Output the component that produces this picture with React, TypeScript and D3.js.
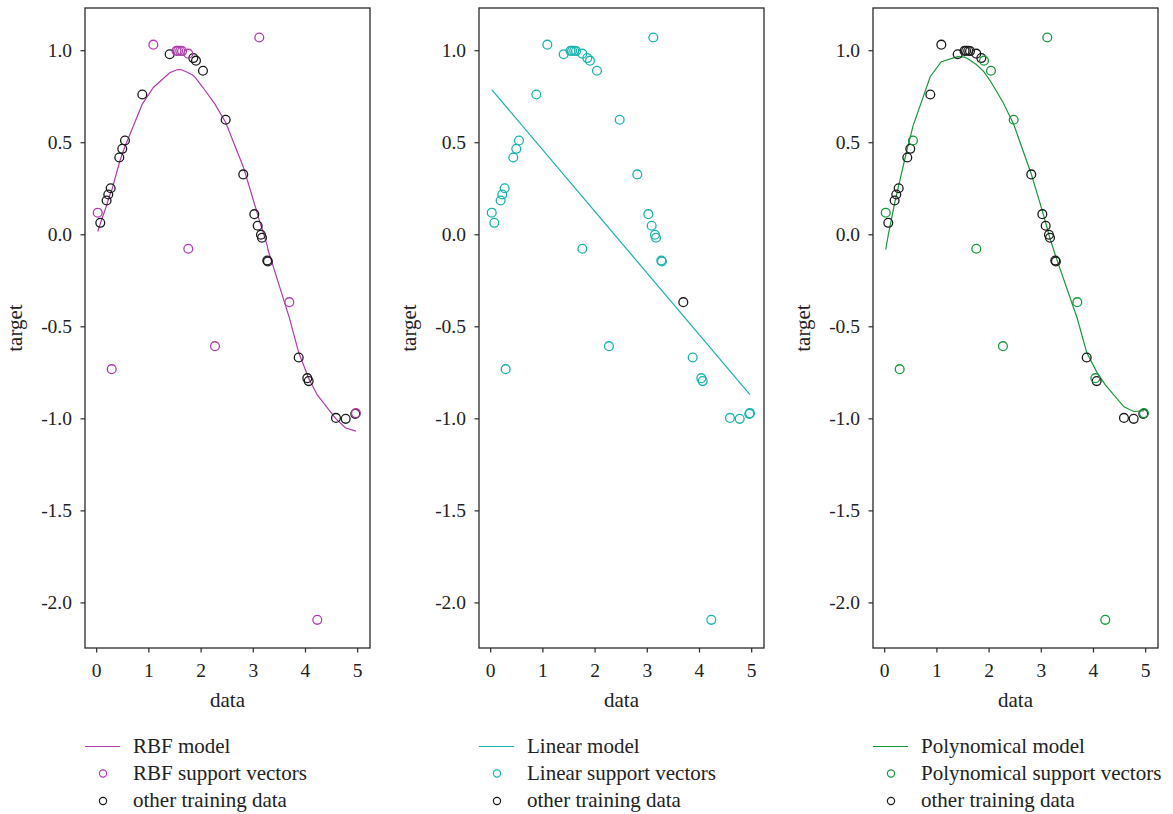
import React from "react";
import { scaleLinear, line } from "d3";

// training data (sorted by x)
const dataX = [
  0.02, 0.069, 0.19, 0.222, 0.268, 0.287, 0.433, 0.49, 0.542, 0.874,
  1.085, 1.398, 1.53, 1.56, 1.6, 1.635, 1.755, 1.755, 1.851, 1.902,
  2.036, 2.266, 2.471, 2.808, 3.02, 3.084, 3.115, 3.147, 3.167, 3.268,
  3.28, 3.69, 3.87, 4.035, 4.061, 4.226, 4.584, 4.77, 4.954, 4.967,
];
const dataY = [
  0.12, 0.065, 0.186, 0.219, 0.253, -0.73, 0.42, 0.467, 0.512, 0.762,
  1.033, 0.981, 0.999, 1.0, 1.0, 0.998, 0.984, -0.076, 0.96, 0.946,
  0.891, -0.605, 0.625, 0.328, 0.112, 0.049, 1.072, 0.0, -0.016, -0.14,
  -0.145, -0.366, -0.667, -0.779, -0.795, -2.092, -0.995, -1.0, -0.973, -0.969,
];

// model predictions at each training x
const rbfPred = [
  0.018, 0.06, 0.16, 0.19, 0.23, 0.24, 0.39, 0.44, 0.48, 0.71,
  0.8, 0.88, 0.895, 0.897, 0.897, 0.895, 0.88, 0.88, 0.865, 0.85,
  0.8, 0.71, 0.61, 0.37, 0.17, 0.11, 0.08, 0.05, 0.035, -0.06,
  -0.08, -0.45, -0.64, -0.76, -0.78, -0.87, -1.0, -1.05, -1.065, -1.068,
];
const linearX = [0.02, 4.967];
const linearPred = [0.788, -0.868];
const polyPred = [
  -0.08, 0.0, 0.17, 0.21, 0.27, 0.29, 0.47, 0.53, 0.59, 0.86,
  0.94, 0.968, 0.965, 0.96, 0.955, 0.948, 0.925, 0.925, 0.9, 0.885,
  0.83, 0.72, 0.6, 0.33, 0.13, 0.065, 0.035, 0.0, -0.02, -0.11,
  -0.12, -0.455, -0.64, -0.73, -0.745, -0.815, -0.935, -0.96, -0.957, -0.955,
];

// support vector indices per kernel
const rbfSupport = [0, 5, 10, 12, 13, 14, 15, 16, 17, 21, 26, 31, 35, 39];
const linearSupport = dataX.map((_, i) => i).filter((i) => i !== 31);
const polySupport = [0, 5, 8, 17, 19, 20, 21, 22, 26, 31, 33, 35, 39];

const xTicks = [0, 1, 2, 3, 4, 5];
const yTicks = [1.0, 0.5, 0.0, -0.5, -1.0, -1.5, -2.0];

const panels = [
  { name: "RBF", color: "#b03cae", lx: dataX, ly: rbfPred, sv: rbfSupport },
  { name: "Linear", color: "#16b4ad", lx: linearX, ly: linearPred, sv: linearSupport },
  { name: "Polynomical", color: "#17993a", lx: dataX, ly: polyPred, sv: polySupport },
];

const FONT = "'Liberation Serif', 'Times New Roman', serif";
const W = 285;
const TOP = 8;
const BOTTOM = 648;
const lefts = [85, 479, 873];

const Panel = ({ p, left }) => {
  const x = scaleLinear().domain([-0.224, 5.236]).range([left, left + W]);
  const y = scaleLinear().domain([-2.245, 1.232]).range([BOTTOM, TOP]);
  const path = line()
    .x((d) => x(d[0]))
    .y((d) => y(d[1]))(p.lx.map((v, i) => [v, p.ly[i]]));
  const svSet = new Set(p.sv);
  const others = dataX.map((_, i) => i).filter((i) => !svSet.has(i));
  const midX = left + W / 2;
  return (
    <g>
      <path d={path} fill="none" stroke={p.color} strokeWidth={1.2} />
      {others.map((i) => (
        <circle key={"o" + i} cx={x(dataX[i])} cy={y(dataY[i])} r={4.4}
          fill="none" stroke="#1a1a1a" strokeWidth={1.3} />
      ))}
      {p.sv.map((i) => (
        <circle key={"s" + i} cx={x(dataX[i])} cy={y(dataY[i])} r={4.4}
          fill="none" stroke={p.color} strokeWidth={1.3} />
      ))}
      <rect x={left} y={TOP} width={W} height={BOTTOM - TOP}
        fill="none" stroke="#2a2a2a" strokeWidth={1.3} />
      {xTicks.map((t) => (
        <g key={"xt" + t}>
          <line x1={x(t)} x2={x(t)} y1={BOTTOM} y2={BOTTOM + 4.5} stroke="#2a2a2a" strokeWidth={1.2} />
          <text x={x(t)} y={BOTTOM + 29} textAnchor="middle" fontSize={19.5} fontFamily={FONT} fill="#222">{t}</text>
        </g>
      ))}
      {yTicks.map((t) => (
        <g key={"yt" + t}>
          <line x1={left - 4.5} x2={left} y1={y(t)} y2={y(t)} stroke="#2a2a2a" strokeWidth={1.2} />
          <text x={left - 13} y={y(t) + 6.5} textAnchor="end" fontSize={19.5} fontFamily={FONT} fill="#222">
            {t.toFixed(1)}
          </text>
        </g>
      ))}
      <text x={midX} y={707} textAnchor="middle" fontSize={21} fontFamily={FONT} fill="#222">data</text>
      <text transform={`translate(${left - 63},${(TOP + BOTTOM) / 2}) rotate(-90)`} textAnchor="middle"
        fontSize={21} fontFamily={FONT} fill="#222">target</text>
      {/* legend */}
      <line x1={left} x2={left + 35} y1={746.5} y2={746.5} stroke={p.color} strokeWidth={1.2} />
      <text x={left + 48} y={752.5} fontSize={21} fontFamily={FONT} fill="#222">{p.name} model</text>
      <circle cx={left + 18} cy={773.5} r={3.6} fill="none" stroke={p.color} strokeWidth={1.2} />
      <text x={left + 48} y={779.5} fontSize={21} fontFamily={FONT} fill="#222">{p.name} support vectors</text>
      <circle cx={left + 18} cy={801} r={3.6} fill="none" stroke="#1a1a1a" strokeWidth={1.2} />
      <text x={left + 48} y={806.5} fontSize={21} fontFamily={FONT} fill="#222">other training data</text>
    </g>
  );
};

export default function App() {
  return (
    <svg width={1173} height={814} style={{ position: "absolute", left: 0, top: 0, background: "#fff" }}>
      <rect width={1173} height={814} fill="#fff" />
      {panels.map((p, i) => (
        <Panel key={p.name} p={p} left={lefts[i]} />
      ))}
    </svg>
  );
}
